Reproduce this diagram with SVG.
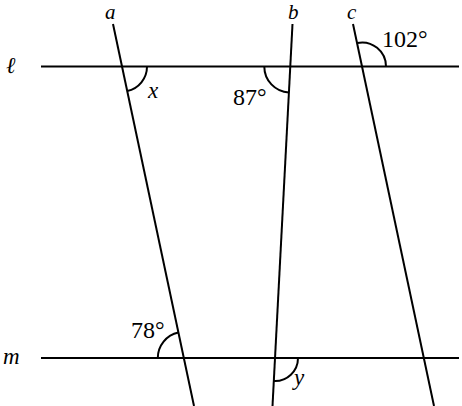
<svg xmlns="http://www.w3.org/2000/svg" width="462" height="406" viewBox="0 0 462 406">
<style>
.ln{stroke:#000;stroke-width:2;fill:none}
.arc{stroke:#000;stroke-width:2;fill:none}
.var{font-family:"Liberation Serif","DejaVu Serif",serif;font-style:italic;font-size:23px;fill:#000}
.top{font-size:21px}
.num{font-family:"Liberation Serif","DejaVu Serif",serif;font-size:24px;fill:#000}
</style>
<rect width="462" height="406" fill="#fff"/>
<g id="connectors">
<line id="line-l" class="ln" x1="41" y1="66.5" x2="459" y2="66.5"/>
<line id="line-m" class="ln" x1="41" y1="358" x2="459" y2="358"/>
<line id="line-a" class="ln" x1="113" y1="24" x2="194" y2="406"/>
<line id="line-b" class="ln" x1="292.5" y1="24" x2="272.5" y2="406"/>
<line id="line-c" class="ln" x1="353" y1="24" x2="434" y2="406"/>
</g>
<g id="angle-x">
<path class="arc" d="M147 66.5 A25 25 0 0 1 127.2 91"/>
<text class="var" x="148" y="98">x</text>
</g>
<g id="angle-87">
<path class="arc" d="M264.3 66.5 A26 26 0 0 0 288.9 92.5"/>
<text class="num" x="233" y="105">87°</text>
</g>
<g id="angle-102">
<path class="arc" d="M386 66.5 A24 24 0 0 0 357 43"/>
<text class="num" x="382" y="47">102°</text>
</g>
<g id="angle-78">
<path class="arc" d="M157.8 358 A26 26 0 0 1 178.4 332.6"/>
<text class="num" x="131" y="338">78°</text>
</g>
<g id="angle-y">
<path class="arc" d="M298 358 A23 23 0 0 1 273.8 381"/>
<text class="var" x="294" y="385">y</text>
</g>
<g id="labels">
<text class="var top" x="105" y="19">a</text>
<text class="var top" x="288" y="19">b</text>
<text class="var top" x="347" y="19">c</text>
<text class="var" x="6" y="73">ℓ</text>
<text class="var" x="3" y="364">m</text>
</g>
</svg>
